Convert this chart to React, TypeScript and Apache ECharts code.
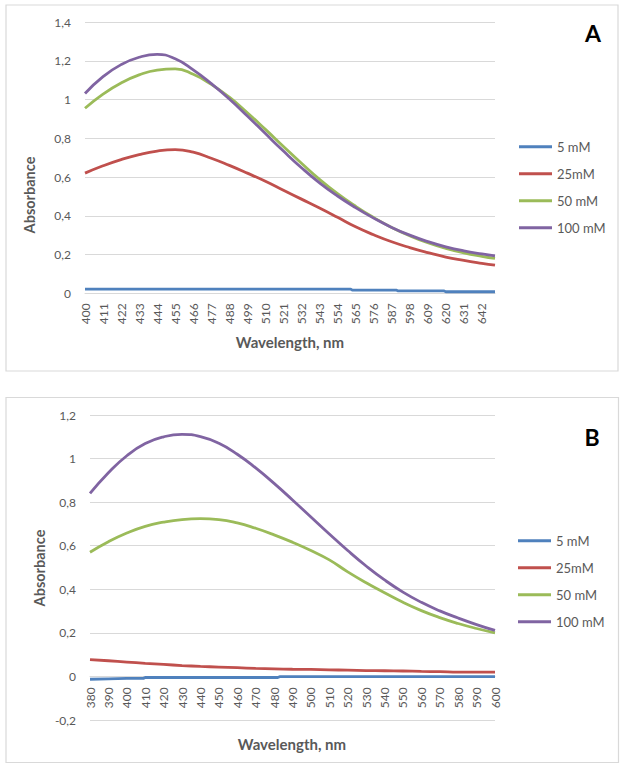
import React, { useEffect, useRef } from "react";
import * as echarts from "echarts";

// ---------- Chart A data ----------
const aStart = 400;
const aEnd = 650;
const aCategories: string[] = [];
for (let w = aStart; w <= aEnd; w++) aCategories.push(String(w));

const aSampleNm = [400, 411, 422, 433, 444, 455, 466, 477, 488, 499, 510, 521, 532, 543, 554, 565, 576, 587, 598, 609, 620, 631, 642, 650];
const a100mM = [1.031, 1.118, 1.18, 1.218, 1.233, 1.21, 1.153, 1.082, 1.003, 0.915, 0.824, 0.734, 0.648, 0.57, 0.502, 0.442, 0.388, 0.34, 0.3, 0.267, 0.24, 0.219, 0.203, 0.193];
const a50mM = [0.955, 1.028, 1.085, 1.127, 1.152, 1.158, 1.13, 1.078, 1.012, 0.932, 0.846, 0.758, 0.671, 0.588, 0.514, 0.449, 0.391, 0.34, 0.297, 0.261, 0.232, 0.209, 0.191, 0.18];
const a25mM = [0.62, 0.658, 0.69, 0.716, 0.734, 0.741, 0.728, 0.697, 0.66, 0.62, 0.578, 0.532, 0.486, 0.44, 0.392, 0.343, 0.302, 0.266, 0.236, 0.21, 0.187, 0.17, 0.155, 0.145];
const a5mMNm = [400, 562, 563, 590, 591, 619, 620, 650];
const a5mM = [0.022, 0.022, 0.016, 0.016, 0.012, 0.012, 0.008, 0.008];

// ---------- Chart B data ----------
const bStart = 380;
const bEnd = 600;
const bCategories: string[] = [];
for (let w = bStart; w <= bEnd; w++) bCategories.push(String(w));

const bSampleNm = [380, 390, 400, 410, 420, 430, 440, 450, 460, 470, 480, 490, 500, 510, 520, 530, 540, 550, 560, 570, 580, 590, 600];
const b100mM = [0.84, 0.935, 1.013, 1.069, 1.1, 1.111, 1.101, 1.07, 1.02, 0.957, 0.886, 0.81, 0.732, 0.654, 0.578, 0.507, 0.443, 0.387, 0.34, 0.301, 0.268, 0.238, 0.211];
const b50mM = [0.57, 0.618, 0.658, 0.689, 0.708, 0.72, 0.724, 0.72, 0.705, 0.68, 0.65, 0.616, 0.578, 0.535, 0.48, 0.43, 0.384, 0.34, 0.302, 0.27, 0.243, 0.22, 0.2];
const b25mM = [0.077, 0.072, 0.066, 0.06, 0.055, 0.05, 0.046, 0.043, 0.04, 0.037, 0.035, 0.033, 0.032, 0.03, 0.029, 0.027, 0.026, 0.025, 0.023, 0.022, 0.02, 0.02, 0.02];
const b5mMNm = [380, 390, 400, 409, 410, 482, 483, 600];
const b5mM = [-0.013, -0.011, -0.009, -0.009, -0.005, -0.005, -0.001, -0.001];

const seriesNames = ["5 mM", "25mM", "50 mM", "100 mM"];
const seriesColors = ["#4F81BD", "#C0504D", "#9BBB59", "#8064A2"];

const FONT = 'Lato, "Liberation Sans", sans-serif';
const TEXT = "#595959";
const GRID = "#d9d9d9";

const pairs = (nm: number[], v: number[]) => nm.map((n, i) => [String(n), v[i]]);
const fmt = (v: number) => String(+v.toFixed(1)).replace(".", ",");

export default function App() {
  const ref = useRef<HTMLDivElement>(null);
  useEffect(() => {
    if (!ref.current) return;
    const chart = echarts.init(ref.current, undefined, { renderer: "svg" });

    const xAxisBase = (cats: string[], interval: number, gridIndex: number, margin: number, offset: number) => ({
      type: "category",
      gridIndex,
      data: cats,
      boundaryGap: false,
      offset,
      axisLine: { show: true, onZero: false, lineStyle: { color: GRID, width: 1 } },
      axisTick: { show: false },
      axisLabel: {
        interval,
        rotate: 90,
        margin,
        color: TEXT,
        fontSize: 12,
        fontFamily: FONT,
      },
      splitLine: { show: false },
    });
    const yAxisBase = (min: number, max: number, gridIndex: number) => ({
      type: "value",
      gridIndex,
      min,
      max,
      interval: 0.2,
      axisLine: { show: false },
      axisTick: { show: false },
      axisLabel: { formatter: fmt, color: TEXT, fontSize: 12, fontFamily: FONT, margin: 14 },
      splitLine: { show: true, lineStyle: { color: GRID, width: 1 } },
    });

    const mk = (name: string, idx: number, data: any[], axisIndex: number, smooth: boolean | number) => ({
      name,
      type: "line",
      xAxisIndex: axisIndex,
      yAxisIndex: axisIndex,
      data,
      smooth,
      showSymbol: false,
      symbol: "none",
      lineStyle: { color: seriesColors[idx], width: 2.8 },
      itemStyle: { color: seriesColors[idx] },
      z: 2 + idx,
    });

    const legendBase = (left: number, top: number) => ({
      orient: "vertical",
      left,
      top,
      padding: 0,
      data: seriesNames,
      icon: "rect",
      itemWidth: 33,
      itemHeight: 3,
      itemGap: 11,
      selectedMode: false,
      textStyle: { color: TEXT, fontSize: 13, fontFamily: FONT, lineHeight: 16 },
    });

    const titleText = (x: number, y: number, text: string, rotate = 0, size = 15) => ({
      type: "text",
      x,
      y,
      rotation: rotate,
      style: {
        text,
        fill: TEXT,
        font: `bold ${size}px ${FONT}`,
        align: "center",
        verticalAlign: "middle",
      },
    });

    chart.setOption({
      animation: false,
      backgroundColor: "#ffffff",
      grid: [
        { left: 85, top: 22, width: 410, height: 271.3 },
        { left: 90, top: 415, width: 405, height: 305 },
      ],
      xAxis: [xAxisBase(aCategories, 10, 0, 10, 0), xAxisBase(bCategories, 9, 1, 11, -43.6)],
      yAxis: [yAxisBase(0, 1.4, 0), yAxisBase(-0.2, 1.2, 1)],
      legend: [legendBase(519, 138.7), legendBase(518, 532.7)],
      series: [
        mk(seriesNames[0], 0, pairs(a5mMNm, a5mM), 0, false),
        mk(seriesNames[1], 1, pairs(aSampleNm, a25mM), 0, 0.5),
        mk(seriesNames[2], 2, pairs(aSampleNm, a50mM), 0, 0.5),
        mk(seriesNames[3], 3, pairs(aSampleNm, a100mM), 0, 0.5),
        mk(seriesNames[0], 0, pairs(b5mMNm, b5mM), 1, false),
        mk(seriesNames[1], 1, pairs(bSampleNm, b25mM), 1, 0.5),
        mk(seriesNames[2], 2, pairs(bSampleNm, b50mM), 1, 0.5),
        mk(seriesNames[3], 3, pairs(bSampleNm, b100mM), 1, 0.5),
      ],
      graphic: [
        { type: "rect", shape: { x: 6, y: 5, width: 612, height: 366 }, style: { fill: "none", stroke: GRID, lineWidth: 1.2 }, z: -10 },
        { type: "rect", shape: { x: 6, y: 397.5, width: 612.5, height: 365 }, style: { fill: "none", stroke: GRID, lineWidth: 1.2 }, z: -10 },
        titleText(29, 195, "Absorbance", Math.PI / 2, 14.5),
        titleText(39, 568, "Absorbance", Math.PI / 2, 14.5),
        titleText(290, 342, "Wavelength, nm"),
        titleText(292, 744, "Wavelength, nm"),
        {
          type: "text",
          x: 593,
          y: 33,
          style: { text: "A", fill: "#000000", font: `bold 23px ${FONT}`, align: "center", verticalAlign: "middle" },
        },
        {
          type: "text",
          x: 592,
          y: 437,
          style: { text: "B", fill: "#000000", font: `bold 23px ${FONT}`, align: "center", verticalAlign: "middle" },
        },
      ],
    });
    return () => chart.dispose();
  }, []);

  return (
    <div
      ref={ref}
      style={{ position: "fixed", left: 0, top: 0, width: 624, height: 767, background: "#fff" }}
    />
  );
}
